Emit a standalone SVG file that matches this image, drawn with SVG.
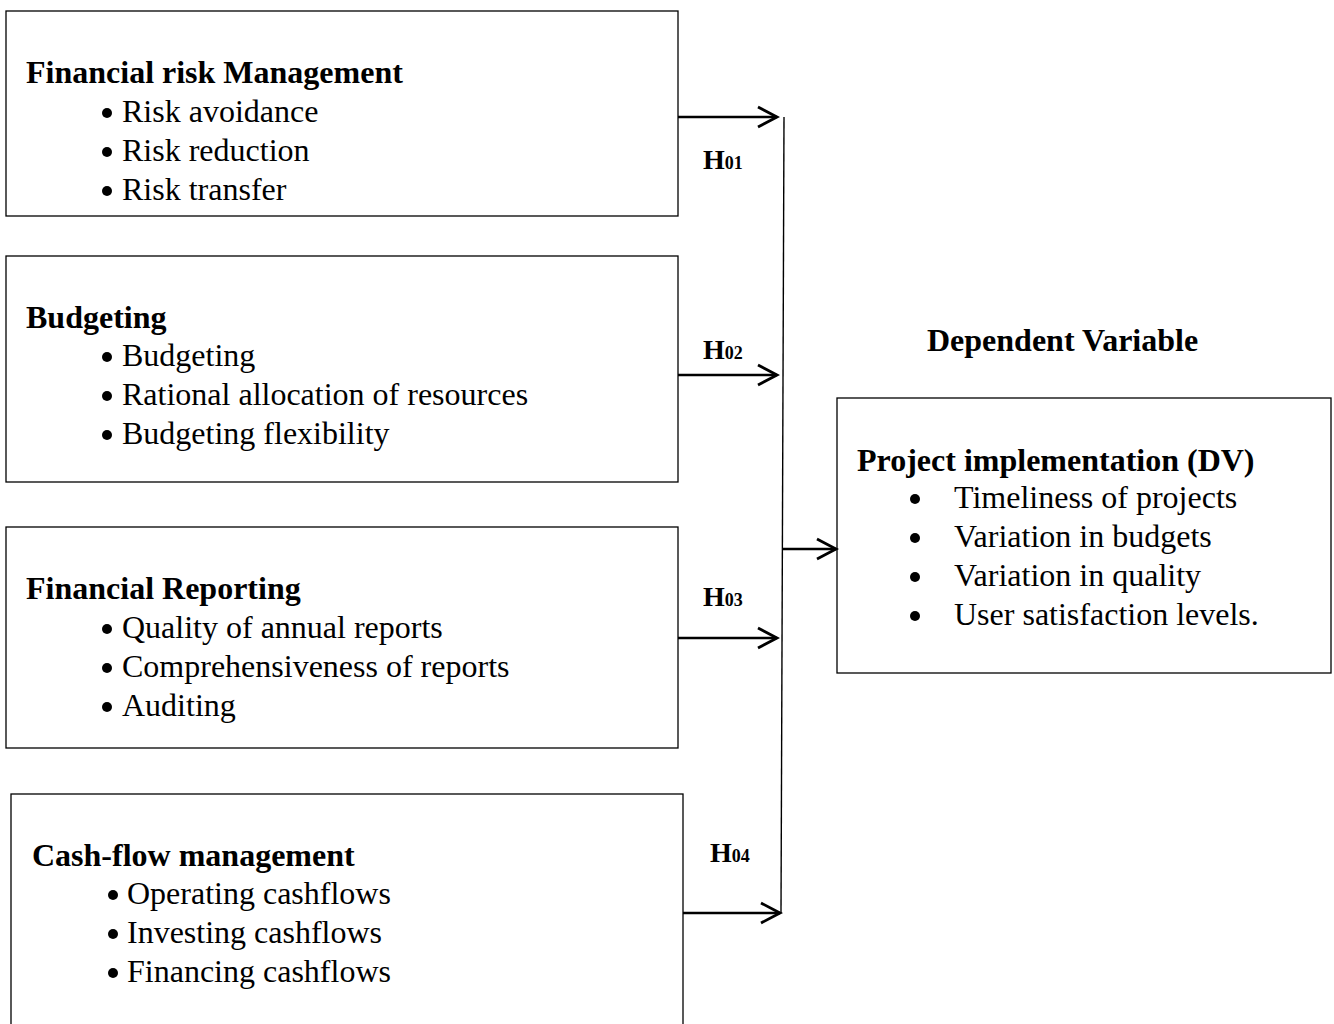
<svg xmlns="http://www.w3.org/2000/svg" width="1334" height="1024" viewBox="0 0 1334 1024">
<style>
.box{fill:#fff;stroke:#000;stroke-width:1.3}
.h{font-family:"Liberation Serif",serif;font-weight:bold;font-size:32px;fill:#000}
.t{font-family:"Liberation Serif",serif;font-size:32px;fill:#000}
.hl{font-family:"Liberation Serif",serif;font-weight:bold;font-size:28px;fill:#000}
.sub{font-size:18px}
.ln{stroke:#000;stroke-width:2.4;fill:none}
.vl{stroke:#000;stroke-width:1.4;fill:none}
</style>
<defs>
<marker id="ah" markerWidth="24" markerHeight="26" refX="20" refY="12" orient="auto" markerUnits="userSpaceOnUse">
<path d="M1,2 L20,12 L1,22" fill="none" stroke="#000" stroke-width="2.8"/>
</marker>
</defs>
<rect width="1334" height="1024" fill="#fff"/>
<g id="n1">
<rect class="box" x="6" y="11" width="672" height="205"/>
<text class="h" x="26" y="83">Financial risk Management</text>
<circle cx="107" cy="113" r="5"/><text class="t" x="122" y="122">Risk avoidance</text>
<circle cx="107" cy="152" r="5"/><text class="t" x="122" y="161">Risk reduction</text>
<circle cx="107" cy="191" r="5"/><text class="t" x="122" y="200">Risk transfer</text>
</g>
<g id="n2">
<rect class="box" x="6" y="256" width="672" height="226"/>
<text class="h" x="26" y="328">Budgeting</text>
<circle cx="107" cy="357" r="5"/><text class="t" x="122" y="366">Budgeting</text>
<circle cx="107" cy="396" r="5"/><text class="t" x="122" y="405">Rational allocation of resources</text>
<circle cx="107" cy="435" r="5"/><text class="t" x="122" y="444">Budgeting flexibility</text>
</g>
<g id="n3">
<rect class="box" x="6" y="527" width="672" height="221"/>
<text class="h" x="26" y="599">Financial Reporting</text>
<circle cx="107" cy="629" r="5"/><text class="t" x="122" y="638">Quality of annual reports</text>
<circle cx="107" cy="668" r="5"/><text class="t" x="122" y="677">Comprehensiveness of reports</text>
<circle cx="107" cy="707" r="5"/><text class="t" x="122" y="716">Auditing</text>
</g>
<g id="n4">
<rect class="box" x="11" y="794" width="672" height="240"/>
<text class="h" x="32" y="866">Cash-flow management</text>
<circle cx="113" cy="895" r="5"/><text class="t" x="127" y="904">Operating cashflows</text>
<circle cx="113" cy="934" r="5"/><text class="t" x="127" y="943">Investing cashflows</text>
<circle cx="113" cy="973" r="5"/><text class="t" x="127" y="982">Financing cashflows</text>
</g>
<g id="dvlabel">
<text class="h" x="927" y="351">Dependent Variable</text>
</g>
<g id="dv">
<rect class="box" x="837" y="398" width="494" height="275"/>
<text class="h" x="857" y="471">Project implementation (DV)</text>
<circle cx="915" cy="499" r="5"/><text class="t" x="954" y="508">Timeliness of projects</text>
<circle cx="915" cy="538" r="5"/><text class="t" x="954" y="547">Variation in budgets</text>
<circle cx="915" cy="577" r="5"/><text class="t" x="954" y="586">Variation in quality</text>
<circle cx="915" cy="616" r="5"/><text class="t" x="954" y="625">User satisfaction levels.</text>
</g>
<g id="connectors">
<line class="vl" x1="784" y1="117" x2="781" y2="913"/>
<line class="ln" x1="678" y1="117" x2="777" y2="117" marker-end="url(#ah)"/>
<line class="ln" x1="678" y1="375" x2="777" y2="375" marker-end="url(#ah)"/>
<line class="ln" x1="678" y1="638" x2="777" y2="638" marker-end="url(#ah)"/>
<line class="ln" x1="683" y1="913" x2="780" y2="913" marker-end="url(#ah)"/>
<line class="ln" x1="783" y1="549" x2="836" y2="549" marker-end="url(#ah)"/>
</g>
<g id="labels">
<text class="hl" x="703" y="169">H<tspan class="sub">01</tspan></text>
<text class="hl" x="703" y="359">H<tspan class="sub">02</tspan></text>
<text class="hl" x="703" y="606">H<tspan class="sub">03</tspan></text>
<text class="hl" x="710" y="862">H<tspan class="sub">04</tspan></text>
</g>
</svg>
